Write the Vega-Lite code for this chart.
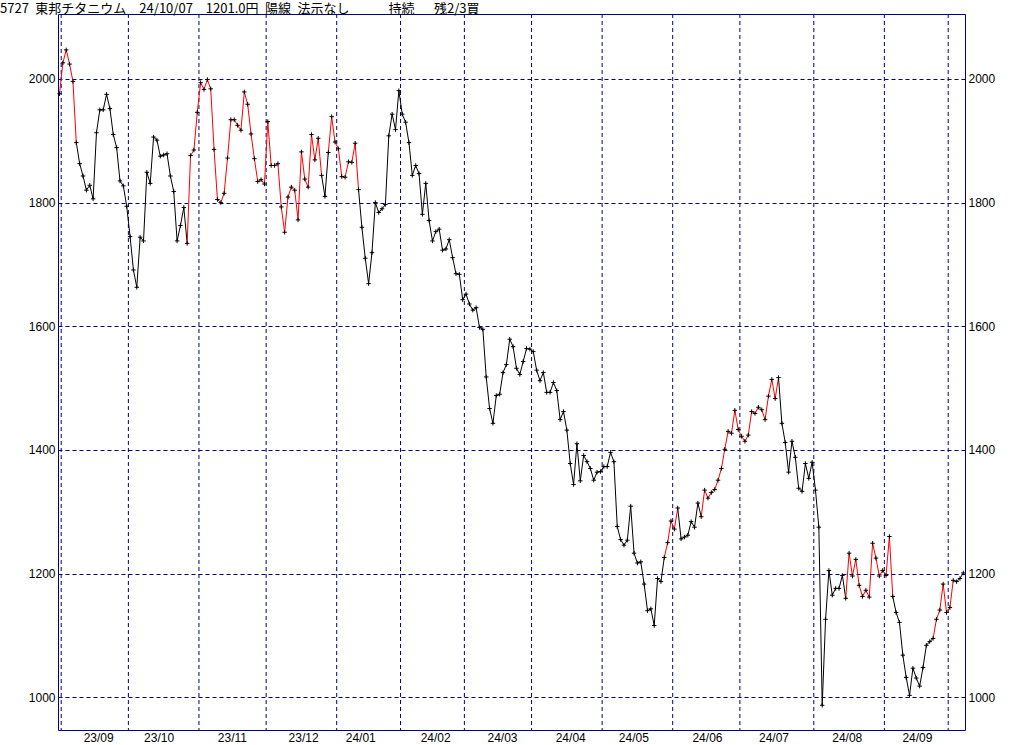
{
  "$schema": "https://vega.github.io/schema/vega-lite/v6.json",
  "width": 907,
  "height": 716,
  "autosize": "none",
  "padding": {"left": 58, "top": 14, "right": 59, "bottom": 15},
  "background": "white",
  "config": {"view": {"stroke": "#000080", "strokeWidth": 1}, "font": "Liberation Sans"},
  "title": {"text": "5727\u2002東邦チタニウム\u2002\u200224/10/07\u2002\u20021201.0円\u2002陽線\u2002法示なし\u2002\u2002\u2002\u2002\u2002\u2002持続\u2002\u2002\u2002残2/3買", "anchor": "start", "frame": "group", "dx": -58, "dy": 14, "offset": 2, "font": "Noto Sans CJK JP", "fontSize": 13, "fontWeight": "normal", "color": "black", "baseline": "alphabetic"},
  "datasets": {
    "months": [{"b": 0.5}, {"b": 20.5}, {"b": 41.5}, {"b": 61.5}, {"b": 82.5}, {"b": 101.5}, {"b": 120.5}, {"b": 140.5}, {"b": 161.5}, {"b": 182.5}, {"b": 202.5}, {"b": 224.5}, {"b": 245.5}, {"b": 264.5}],
    "price": [
      {"i":0,"v":1976,"c":"r"},{"i":1,"v":2026,"c":"r"},{"i":2,"v":2047,"c":"r"},{"i":3,"v":2024,"c":"r"},{"i":4,"v":1996,"c":"r"},
      {"i":5,"v":1897,"c":"k"},{"i":6,"v":1863,"c":"k"},{"i":7,"v":1843,"c":"k"},{"i":8,"v":1820,"c":"k"},{"i":9,"v":1828,"c":"k"},
      {"i":10,"v":1806,"c":"k"},{"i":11,"v":1913,"c":"k"},{"i":12,"v":1950,"c":"k"},{"i":13,"v":1950,"c":"k"},{"i":14,"v":1975,"c":"k"},
      {"i":15,"v":1952,"c":"k"},{"i":16,"v":1910,"c":"k"},{"i":17,"v":1889,"c":"k"},{"i":18,"v":1835,"c":"k"},{"i":19,"v":1827,"c":"k"},
      {"i":20,"v":1794,"c":"k"},{"i":21,"v":1745,"c":"k"},{"i":22,"v":1691,"c":"k"},{"i":23,"v":1663,"c":"k"},{"i":24,"v":1744,"c":"k"},
      {"i":25,"v":1738,"c":"k"},{"i":26,"v":1849,"c":"k"},{"i":27,"v":1831,"c":"k"},{"i":28,"v":1906,"c":"k"},{"i":29,"v":1901,"c":"k"},
      {"i":30,"v":1875,"c":"k"},{"i":31,"v":1877,"c":"k"},{"i":32,"v":1879,"c":"k"},{"i":33,"v":1843,"c":"k"},{"i":34,"v":1818,"c":"k"},
      {"i":35,"v":1738,"c":"k"},{"i":36,"v":1763,"c":"k"},{"i":37,"v":1792,"c":"k"},{"i":38,"v":1734,"c":"r"},{"i":39,"v":1876,"c":"r"},
      {"i":40,"v":1885,"c":"r"},{"i":41,"v":1946,"c":"r"},{"i":42,"v":1994,"c":"r"},{"i":43,"v":1983,"c":"r"},{"i":44,"v":1999,"c":"r"},
      {"i":45,"v":1984,"c":"r"},{"i":46,"v":1886,"c":"r"},{"i":47,"v":1805,"c":"r"},{"i":48,"v":1800,"c":"r"},{"i":49,"v":1815,"c":"r"},
      {"i":50,"v":1872,"c":"r"},{"i":51,"v":1934,"c":"r"},{"i":52,"v":1934,"c":"r"},{"i":53,"v":1925,"c":"r"},{"i":54,"v":1917,"c":"r"},
      {"i":55,"v":1979,"c":"r"},{"i":56,"v":1959,"c":"r"},{"i":57,"v":1911,"c":"r"},{"i":58,"v":1871,"c":"r"},{"i":59,"v":1834,"c":"r"},
      {"i":60,"v":1837,"c":"r"},{"i":61,"v":1830,"c":"r"},{"i":62,"v":1931,"c":"r"},{"i":63,"v":1860,"c":"r"},{"i":64,"v":1860,"c":"r"},
      {"i":65,"v":1863,"c":"r"},{"i":66,"v":1793,"c":"r"},{"i":67,"v":1752,"c":"r"},{"i":68,"v":1809,"c":"r"},{"i":69,"v":1825,"c":"r"},
      {"i":70,"v":1820,"c":"r"},{"i":71,"v":1772,"c":"r"},{"i":72,"v":1882,"c":"r"},{"i":73,"v":1838,"c":"r"},{"i":74,"v":1825,"c":"r"},
      {"i":75,"v":1910,"c":"r"},{"i":76,"v":1869,"c":"r"},{"i":77,"v":1904,"c":"r"},{"i":78,"v":1844,"c":"k"},{"i":79,"v":1810,"c":"k"},
      {"i":80,"v":1881,"c":"r"},{"i":81,"v":1939,"c":"r"},{"i":82,"v":1898,"c":"r"},{"i":83,"v":1887,"c":"r"},{"i":84,"v":1842,"c":"r"},
      {"i":85,"v":1841,"c":"r"},{"i":86,"v":1866,"c":"r"},{"i":87,"v":1865,"c":"r"},{"i":88,"v":1896,"c":"r"},{"i":89,"v":1821,"c":"k"},
      {"i":90,"v":1760,"c":"k"},{"i":91,"v":1710,"c":"k"},{"i":92,"v":1669,"c":"k"},{"i":93,"v":1719,"c":"k"},{"i":94,"v":1800,"c":"k"},
      {"i":95,"v":1784,"c":"k"},{"i":96,"v":1790,"c":"k"},{"i":97,"v":1797,"c":"k"},{"i":98,"v":1908,"c":"k"},{"i":99,"v":1943,"c":"k"},
      {"i":100,"v":1918,"c":"k"},{"i":101,"v":1981,"c":"k"},{"i":102,"v":1943,"c":"k"},{"i":103,"v":1930,"c":"k"},{"i":104,"v":1897,"c":"k"},
      {"i":105,"v":1844,"c":"k"},{"i":106,"v":1860,"c":"k"},{"i":107,"v":1847,"c":"k"},{"i":108,"v":1781,"c":"k"},{"i":109,"v":1831,"c":"k"},
      {"i":110,"v":1771,"c":"k"},{"i":111,"v":1738,"c":"k"},{"i":112,"v":1753,"c":"k"},{"i":113,"v":1757,"c":"k"},{"i":114,"v":1723,"c":"k"},
      {"i":115,"v":1725,"c":"k"},{"i":116,"v":1740,"c":"k"},{"i":117,"v":1711,"c":"k"},{"i":118,"v":1685,"c":"k"},{"i":119,"v":1684,"c":"k"},
      {"i":120,"v":1643,"c":"k"},{"i":121,"v":1652,"c":"k"},{"i":122,"v":1636,"c":"k"},{"i":123,"v":1626,"c":"k"},{"i":124,"v":1630,"c":"k"},
      {"i":125,"v":1598,"c":"k"},{"i":126,"v":1595,"c":"k"},{"i":127,"v":1518,"c":"k"},{"i":128,"v":1467,"c":"k"},{"i":129,"v":1443,"c":"k"},
      {"i":130,"v":1488,"c":"k"},{"i":131,"v":1490,"c":"k"},{"i":132,"v":1525,"c":"k"},{"i":133,"v":1538,"c":"k"},{"i":134,"v":1579,"c":"k"},
      {"i":135,"v":1567,"c":"k"},{"i":136,"v":1532,"c":"k"},{"i":137,"v":1522,"c":"k"},{"i":138,"v":1543,"c":"k"},{"i":139,"v":1564,"c":"k"},
      {"i":140,"v":1563,"c":"k"},{"i":141,"v":1559,"c":"k"},{"i":142,"v":1529,"c":"k"},{"i":143,"v":1512,"c":"k"},{"i":144,"v":1525,"c":"k"},
      {"i":145,"v":1493,"c":"k"},{"i":146,"v":1493,"c":"k"},{"i":147,"v":1509,"c":"k"},{"i":148,"v":1496,"c":"k"},{"i":149,"v":1449,"c":"k"},
      {"i":150,"v":1462,"c":"k"},{"i":151,"v":1432,"c":"k"},{"i":152,"v":1378,"c":"k"},{"i":153,"v":1344,"c":"k"},{"i":154,"v":1410,"c":"k"},
      {"i":155,"v":1350,"c":"k"},{"i":156,"v":1391,"c":"k"},{"i":157,"v":1381,"c":"k"},{"i":158,"v":1370,"c":"k"},{"i":159,"v":1351,"c":"k"},
      {"i":160,"v":1364,"c":"k"},{"i":161,"v":1365,"c":"k"},{"i":162,"v":1373,"c":"k"},{"i":163,"v":1373,"c":"k"},{"i":164,"v":1396,"c":"k"},
      {"i":165,"v":1381,"c":"k"},{"i":166,"v":1276,"c":"k"},{"i":167,"v":1255,"c":"k"},{"i":168,"v":1246,"c":"k"},{"i":169,"v":1254,"c":"k"},
      {"i":170,"v":1309,"c":"k"},{"i":171,"v":1233,"c":"k"},{"i":172,"v":1217,"c":"k"},{"i":173,"v":1219,"c":"k"},{"i":174,"v":1183,"c":"k"},
      {"i":175,"v":1140,"c":"k"},{"i":176,"v":1143,"c":"k"},{"i":177,"v":1116,"c":"k"},{"i":178,"v":1192,"c":"k"},{"i":179,"v":1187,"c":"k"},
      {"i":180,"v":1226,"c":"r"},{"i":181,"v":1250,"c":"r"},{"i":182,"v":1285,"c":"r"},{"i":183,"v":1272,"c":"r"},{"i":184,"v":1306,"c":"k"},
      {"i":185,"v":1256,"c":"k"},{"i":186,"v":1259,"c":"k"},{"i":187,"v":1262,"c":"k"},{"i":188,"v":1284,"c":"k"},{"i":189,"v":1275,"c":"k"},
      {"i":190,"v":1314,"c":"k"},{"i":191,"v":1292,"c":"r"},{"i":192,"v":1335,"c":"r"},{"i":193,"v":1322,"c":"r"},{"i":194,"v":1331,"c":"r"},
      {"i":195,"v":1336,"c":"r"},{"i":196,"v":1351,"c":"r"},{"i":197,"v":1370,"c":"r"},{"i":198,"v":1401,"c":"r"},{"i":199,"v":1430,"c":"r"},
      {"i":200,"v":1427,"c":"r"},{"i":201,"v":1464,"c":"r"},{"i":202,"v":1433,"c":"r"},{"i":203,"v":1422,"c":"r"},{"i":204,"v":1414,"c":"r"},
      {"i":205,"v":1424,"c":"r"},{"i":206,"v":1462,"c":"r"},{"i":207,"v":1459,"c":"r"},{"i":208,"v":1469,"c":"r"},{"i":209,"v":1465,"c":"r"},
      {"i":210,"v":1449,"c":"r"},{"i":211,"v":1487,"c":"r"},{"i":212,"v":1514,"c":"r"},{"i":213,"v":1483,"c":"r"},{"i":214,"v":1517,"c":"k"},
      {"i":215,"v":1443,"c":"k"},{"i":216,"v":1412,"c":"k"},{"i":217,"v":1364,"c":"k"},{"i":218,"v":1414,"c":"k"},{"i":219,"v":1388,"c":"k"},
      {"i":220,"v":1338,"c":"k"},{"i":221,"v":1333,"c":"k"},{"i":222,"v":1378,"c":"k"},{"i":223,"v":1354,"c":"k"},{"i":224,"v":1380,"c":"k"},
      {"i":225,"v":1335,"c":"k"},{"i":226,"v":1275,"c":"k"},{"i":227,"v":987,"c":"k"},{"i":228,"v":1126,"c":"k"},{"i":229,"v":1205,"c":"k"},
      {"i":230,"v":1165,"c":"k"},{"i":231,"v":1176,"c":"k"},{"i":232,"v":1176,"c":"k"},{"i":233,"v":1197,"c":"k"},{"i":234,"v":1160,"c":"r"},
      {"i":235,"v":1233,"c":"r"},{"i":236,"v":1196,"c":"r"},{"i":237,"v":1223,"c":"r"},{"i":238,"v":1181,"c":"r"},{"i":239,"v":1163,"c":"r"},
      {"i":240,"v":1173,"c":"r"},{"i":241,"v":1162,"c":"r"},{"i":242,"v":1249,"c":"r"},{"i":243,"v":1225,"c":"r"},{"i":244,"v":1196,"c":"r"},
      {"i":245,"v":1205,"c":"k"},{"i":246,"v":1197,"c":"r"},{"i":247,"v":1260,"c":"r"},{"i":248,"v":1163,"c":"k"},{"i":249,"v":1137,"c":"k"},
      {"i":250,"v":1121,"c":"k"},{"i":251,"v":1068,"c":"k"},{"i":252,"v":1032,"c":"k"},{"i":253,"v":1003,"c":"k"},{"i":254,"v":1047,"c":"k"},
      {"i":255,"v":1031,"c":"k"},{"i":256,"v":1018,"c":"k"},{"i":257,"v":1048,"c":"k"},{"i":258,"v":1084,"c":"k"},{"i":259,"v":1090,"c":"k"},
      {"i":260,"v":1095,"c":"r"},{"i":261,"v":1126,"c":"r"},{"i":262,"v":1141,"c":"r"},{"i":263,"v":1183,"c":"r"},{"i":264,"v":1137,"c":"r"},
      {"i":265,"v":1145,"c":"r"},{"i":266,"v":1189,"c":"k"},{"i":267,"v":1187,"c":"k"},{"i":268,"v":1192,"c":"k"},{"i":269,"v":1201,"c":"k"}
    ]
  },
  "resolve": {"axis": {"y": "independent"}},
  "layer": [
    {
      "data": {"name": "months"},
      "mark": {"type": "rule", "color": "#000080", "strokeDash": [4, 3], "strokeWidth": 1},
      "encoding": {
        "x": {"field": "b", "type": "quantitative", "title": null,
          "scale": {"domain": [-0.45, 269.5], "nice": false, "zero": false},
          "axis": {"values": [11.5, 29.5, 51.3, 72.5, 89.5, 111.8, 131.7, 152, 170.8, 192.7, 212.5, 234.3, 255.2],
            "labelExpr": "['23/09','23/10','23/11','23/12','24/01','24/02','24/03','24/04','24/05','24/06','24/07','24/08','24/09'][indexof([11.5, 29.5, 51.3, 72.5, 89.5, 111.8, 131.7, 152, 170.8, 192.7, 212.5, 234.3, 255.2], datum.value)]",
            "grid": false, "ticks": false, "domain": false, "labelPadding": 2, "labelFontSize": 12, "labelColor": "black", "labelFont": "Liberation Sans", "labelOverlap": false, "labelFlush": false}}
      }
    },
    {
      "data": {"name": "price"},
      "transform": [
        {"window": [{"op": "lead", "field": "v", "as": "v2"}, {"op": "lead", "field": "i", "as": "i2"}], "sort": [{"field": "i"}]},
        {"filter": "datum.i2 != null"}
      ],
      "mark": {"type": "rule", "strokeWidth": 1},
      "encoding": {
        "x": {"field": "i", "type": "quantitative", "title": null, "scale": {"domain": [-0.45, 269.5], "nice": false, "zero": false}},
        "x2": {"field": "i2"},
        "y": {"field": "v", "type": "quantitative", "title": null,
          "scale": {"domain": [947, 2105], "nice": false, "zero": false},
          "axis": {"orient": "left", "values": [1000, 1200, 1400, 1600, 1800, 2000], "format": "d", "grid": true, "gridColor": "#000080", "gridDash": [4, 3], "gridWidth": 1, "gridOpacity": 1, "ticks": false, "domain": false, "labelPadding": 3, "labelFontSize": 12, "labelColor": "black", "labelFont": "Liberation Sans"}},
        "y2": {"field": "v2"},
        "color": {"field": "c", "type": "nominal", "scale": {"domain": ["r", "k"], "range": ["#ff0000", "#000000"]}, "legend": null}
      }
    },
    {
      "data": {"name": "price"},
      "mark": {"type": "point", "shape": "M-1,0L1,0M0,-1L0,1", "size": 20, "filled": false, "stroke": "black", "strokeWidth": 1, "opacity": 1},
      "encoding": {
        "x": {"field": "i", "type": "quantitative", "title": null, "scale": {"domain": [-0.45, 269.5], "nice": false, "zero": false}},
        "y": {"field": "v", "type": "quantitative", "title": null,
          "scale": {"domain": [947, 2105], "nice": false, "zero": false},
          "axis": {"orient": "right", "values": [1000, 1200, 1400, 1600, 1800, 2000], "format": "d", "grid": false, "ticks": false, "domain": false, "labelPadding": 3, "labelFontSize": 12, "labelColor": "black", "labelFont": "Liberation Sans"}}
      }
    }
  ]
}
